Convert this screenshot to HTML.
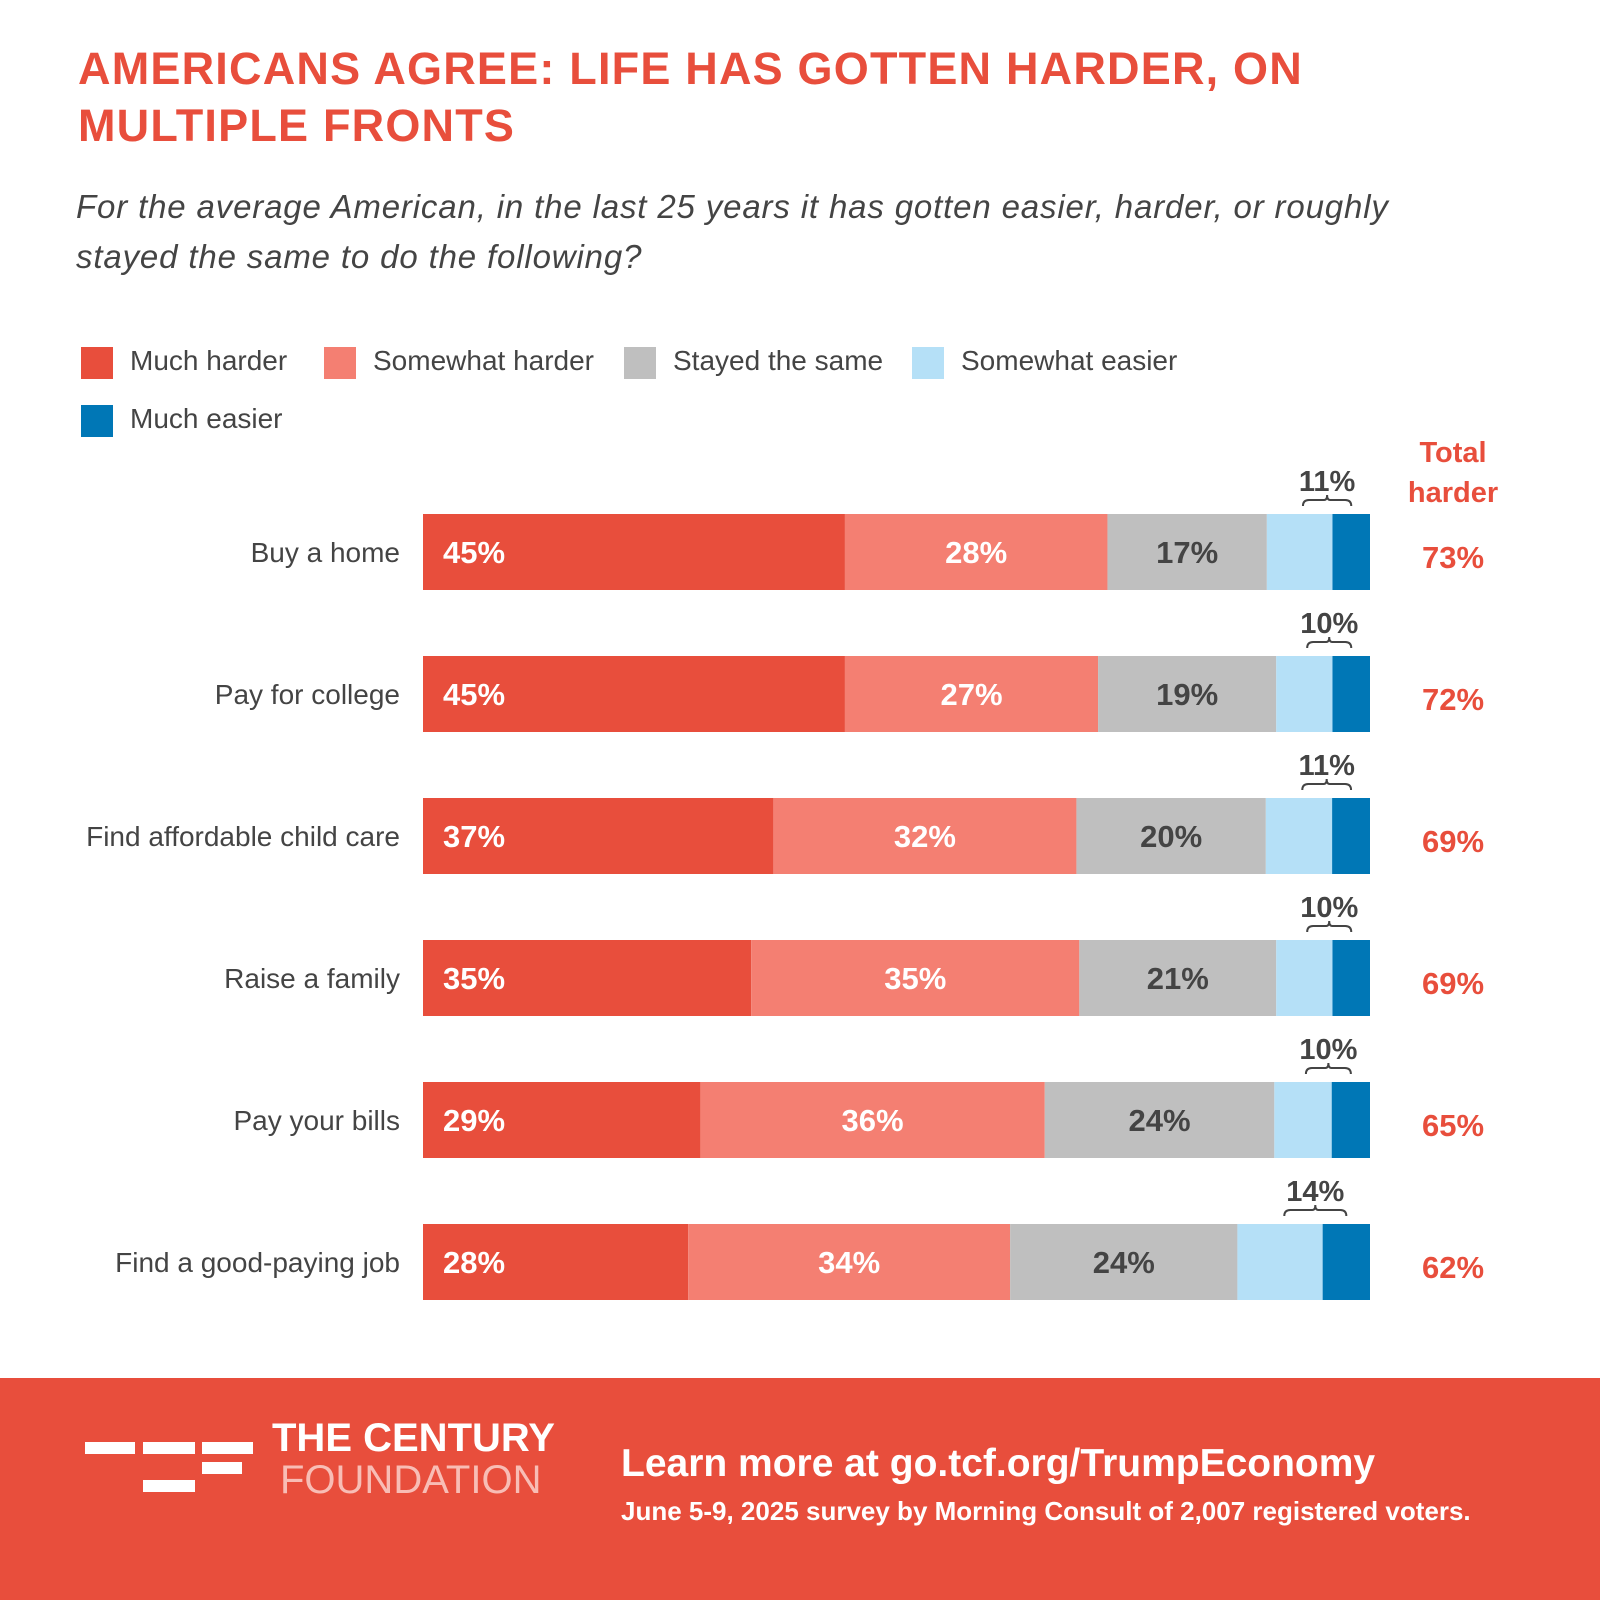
<!DOCTYPE html>
<html><head><meta charset="utf-8"><style>
body{margin:0;width:1600px;height:1600px;background:#fff;font-family:"Liberation Sans",sans-serif;position:relative;overflow:hidden}
.abs{position:absolute;margin:0}
.title{left:78px;top:40px;color:#E84E3C;font-weight:bold;font-size:45px;line-height:57px;letter-spacing:1.2px}
.sub{left:76px;top:182px;color:#444;font-style:italic;font-size:33px;line-height:50px;letter-spacing:0.85px}
.leg{font-size:28px;color:#444}
.sw{width:32px;height:32px;position:absolute}
</style></head><body>
<div class="abs title">AMERICANS AGREE: LIFE HAS GOTTEN HARDER, ON<br>MULTIPLE FRONTS</div>
<div class="abs sub">For the average American, in the last 25 years it has gotten easier, harder, or roughly<br>stayed the same to do the following?</div>
<div id="legend"></div>
<svg id="chart" class="abs" style="left:0;top:0" width="1600" height="1378"></svg>
<div class="abs" style="left:0;top:1378px;width:1600px;height:222px;background:#E84E3C">
<div class="abs" style="left:85px;top:64px;width:50px;height:12px;background:#fff"></div>
<div class="abs" style="left:143px;top:64px;width:52px;height:12px;background:#fff"></div>
<div class="abs" style="left:202px;top:64px;width:51px;height:12px;background:#fff"></div>
<div class="abs" style="left:202px;top:84px;width:40px;height:12px;background:#fff"></div>
<div class="abs" style="left:143px;top:102px;width:52px;height:12px;background:#fff"></div>
<div class="abs" style="left:272px;top:38px;color:#fff;font-weight:bold;font-size:40px;line-height:44px">THE CENTURY</div>
<div class="abs" style="left:280px;top:80px;color:#F8BDB5;font-size:40px;line-height:44px">FOUNDATION</div>
<div class="abs" style="left:621px;top:64px;color:#fff;font-weight:bold;font-size:39px">Learn more at go.tcf.org/TrumpEconomy</div>
<div class="abs" style="left:621px;top:118px;color:#fff;font-weight:bold;font-size:26px">June 5-9, 2025 survey by Morning Consult of 2,007 registered voters.</div>
</div>
<script>
const categories=["Buy a home","Pay for college","Find affordable child care","Raise a family","Pay your bills","Find a good-paying job"];
const muchHarder=[45,45,37,35,29,28];
const somewhatHarder=[28,27,32,35,36,34];
const stayedSame=[17,19,20,21,24,24];
const somewhatEasier=[7,6,7,6,6,9];
const muchEasier=[4,4,4,4,4,5];
const totalEasier=[11,10,11,10,10,14];
const totalHarder=[73,72,69,69,65,62];
const seriesNames=["Much harder","Somewhat harder","Stayed the same","Somewhat easier","Much easier"];
const colors=["#E84E3C","#F47F72","#BFBFBF","#B5E0F7","#0077B6"];
const NS="http://www.w3.org/2000/svg";
const svg=document.getElementById('chart');
const x0=423,x1=1370,y0=514,step=142,bh=76;
function mk(t,a,txt){const e=document.createElementNS(NS,t);for(const k in a)e.setAttribute(k,a[k]);if(txt!==undefined)e.textContent=txt;svg.appendChild(e);return e;}
const leg=document.getElementById('legend');
const lpos=[[81,347],[324,347],[624,347],[912,347],[81,405]];
seriesNames.forEach((n,i)=>{
 const s=document.createElement('div');s.className='sw';s.style.left=lpos[i][0]+'px';s.style.top=lpos[i][1]+'px';s.style.background=colors[i];
 
 
 leg.appendChild(s);
 const t=document.createElement('div');t.className='abs leg';t.style.left=(lpos[i][0]+49)+'px';t.style.top=(lpos[i][1]-2)+'px';t.textContent=n;
 
 
 leg.appendChild(t);
});
const th=mk('text',{x:1453,y:462,'text-anchor':'middle',fill:'#E84E3C','font-weight':'bold','font-size':29},'Total');


const th2=mk('text',{x:1453,y:502,'text-anchor':'middle',fill:'#E84E3C','font-weight':'bold','font-size':29},'harder');


categories.forEach((c,r)=>{
 const vals=[muchHarder[r],somewhatHarder[r],stayedSame[r],somewhatEasier[r],muchEasier[r]];
 const sum=vals.reduce((a,b)=>a+b,0);
 const sc=v=>v/sum*(x1-x0);
 const y=y0+r*step;
 const lab=mk('text',{x:400,y:y+bh/2+10,'text-anchor':'end',fill:'#444','font-size':28},c);
 
 
 let x=x0;
 vals.forEach((v,i)=>{
  const w=sc(v);
  const rc=mk('rect',{x:x,y:y,width:w,height:bh,fill:colors[i]});
  
  
  if(i<3){
   const tx=i==0?x+20:x+w/2;
   const t=mk('text',{x:tx,y:y+bh/2+11,'text-anchor':i==0?'start':'middle',fill:i==2?'#444':'#fff','font-weight':'bold','font-size':31},v+'%');
   
   
  }
  if(i==3){
   const b1=x+w*0.55, b2=x+w+sc(muchEasier[r])*0.5;
   const cx=(b1+b2)/2;
   const br=mk('path',{d:`M${b1} ${y-8} q0 -6 6 -6 L${cx-3} ${y-14} q3 0 3 -5 q0 5 3 5 L${b2-6} ${y-14} q6 0 6 6`,fill:'none',stroke:'#444','stroke-width':2});
   
   
   const et=mk('text',{x:cx,y:y-23,'text-anchor':'middle',fill:'#444','font-weight':'bold','font-size':29},totalEasier[r]+'%');
   
   
  }
  x+=w;
 });
 const tt=mk('text',{x:1453,y:y+bh/2+16,'text-anchor':'middle',fill:'#E84E3C','font-weight':'bold','font-size':31},totalHarder[r]+'%');
 
 
});
</script>
</body></html>
